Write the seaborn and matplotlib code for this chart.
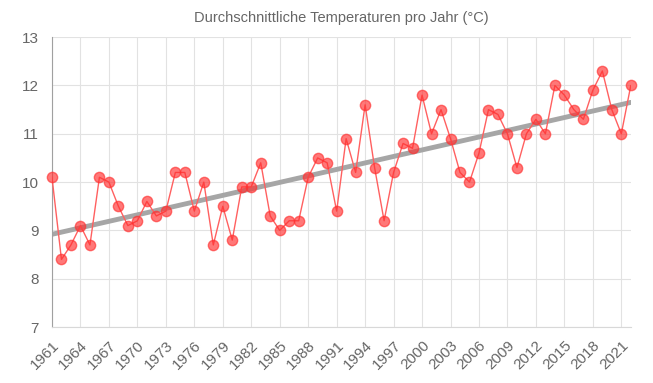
import numpy as np
import pandas as pd
import matplotlib.pyplot as plt
import seaborn as sns

# Jahresmittel der Temperatur (°C)
years = list(range(1961, 2023))
temps = [10.1, 8.4, 8.7, 9.1, 8.7, 10.1, 10.0, 9.5, 9.1, 9.2,
         9.6, 9.3, 9.4, 10.2, 10.2, 9.4, 10.0, 8.7, 9.5, 8.8,
         9.9, 9.9, 10.4, 9.3, 9.0, 9.2, 9.2, 10.1, 10.5, 10.4,
         9.4, 10.9, 10.2, 11.6, 10.3, 9.2, 10.2, 10.8, 10.7, 11.8,
         11.0, 11.5, 10.9, 10.2, 10.0, 10.6, 11.5, 11.4, 11.0, 10.3,
         11.0, 11.3, 11.0, 12.0, 11.8, 11.5, 11.3, 11.9, 12.3, 11.5,
         11.0, 12.0]

# Trendlinie (Anfangs- und Endwert)
trend_years = [1961, 2022]
trend_vals = [8.92, 11.65]

tick_years = list(range(1961, 2022, 3))
y_ticks = [7, 8, 9, 10, 11, 12, 13]

df = pd.DataFrame({'Jahr': years, 'Temperatur': temps})
trend = pd.DataFrame({'Jahr': trend_years, 'Temperatur': trend_vals})

sns.set_style('white')
plt.rcParams['font.family'] = ['Liberation Sans', 'DejaVu Sans']

fig, ax = plt.subplots(figsize=(6.53, 3.83), dpi=100)
fig.subplots_adjust(left=0.0796, right=0.966, top=0.903, bottom=0.146)

sns.lineplot(data=trend, x='Jahr', y='Temperatur', ax=ax, color='#a6a6a6',
             linewidth=3.5, zorder=2)
sns.lineplot(data=df, x='Jahr', y='Temperatur', ax=ax, color='#ff6060',
             linewidth=1, zorder=3)
pts = sns.scatterplot(data=df, x='Jahr', y='Temperatur', ax=ax, color='#ff3030',
                      alpha=0.65, s=55, edgecolor='#ff3030', linewidth=1,
                      zorder=4, clip_on=False)

ax.set_xlim(1961, 2022)
ax.set_ylim(7, 13)
ax.set_xticks(tick_years)
ax.set_xticklabels([str(y) for y in tick_years], rotation=45, ha='right',
                   rotation_mode='anchor')
ax.set_yticks(y_ticks)
ax.grid(True, color='#e2e2e2', linewidth=0.8)
ax.set_axisbelow(True)
ax.tick_params(axis='both', colors='#666666', labelsize=11, color='#e2e2e2')
ax.tick_params(axis='y', length=8.5, pad=1)
ax.tick_params(axis='x', length=7, pad=1)
for side in ['top', 'right']:
    ax.spines[side].set_visible(False)
ax.spines['left'].set_color('#a0a0a0')
ax.spines['bottom'].set_color('#d8d8d8')
ax.set_xlabel('')
ax.set_ylabel('')
ax.set_title('Durchschnittliche Temperaturen pro Jahr (°C)', color='#666666',
             fontsize=10.5, pad=11)

plt.savefig('out.png', dpi=100)
